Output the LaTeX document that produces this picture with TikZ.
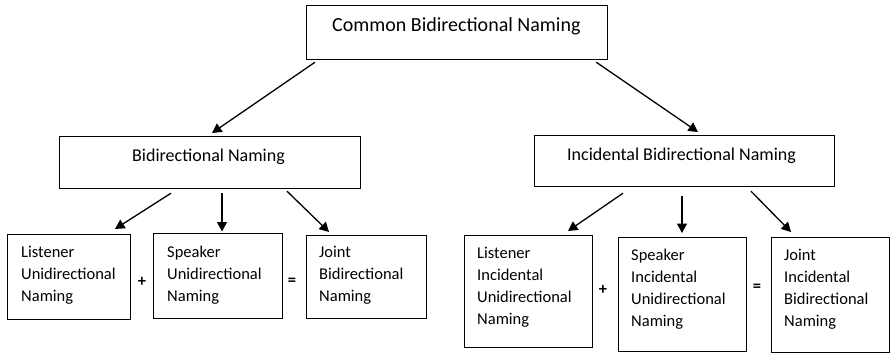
\documentclass[tikz,border=0pt]{standalone}
\usepackage{fontspec}
\setmainfont{Carlito}
\usetikzlibrary{arrows.meta}

\tikzset{
  namebox/.style={draw, line width=1.2pt, inner sep=0pt, anchor=north west},
  nametext/.style={inner sep=0pt, anchor=north west, align=left},
  lowtext/.style={nametext, font=\fontsize{16.5}{22}\selectfont},
  sign/.style={inner sep=0pt, font=\fontsize{16.5}{20}\selectfont\bfseries},
  arr/.style={-{Triangle[length=9.5pt,width=10pt]}, line width=1.3pt},
}

\begin{document}
\begin{tikzpicture}[x=1pt,y=-1pt]
\useasboundingbox [fill=white] (0,0) rectangle (890,353);
% ящики
\node [namebox, minimum width=301pt, minimum height=54pt] (cbn) at (306,5) {};
\node [namebox, minimum width=301pt, minimum height=52pt] (bn) at (59,136) {};
\node [namebox, minimum width=300pt, minimum height=51pt] (ibn) at (534,135) {};
\node [namebox, minimum width=123pt, minimum height=85pt] (lun) at (7,234) {};
\node [namebox, minimum width=129pt, minimum height=85pt] (sun) at (153,233) {};
\node [namebox, minimum width=120pt, minimum height=83pt] (jbn) at (306,235) {};
\node [namebox, minimum width=128pt, minimum height=112pt] (liun) at (464,235) {};
\node [namebox, minimum width=128pt, minimum height=114pt] (siun) at (618,237) {};
\node [namebox, minimum width=118pt, minimum height=115pt] (jibn) at (771,237) {};
% подписи
\node [nametext, font=\fontsize{20}{24}\selectfont] (cbntxt) at (332,17) {Common Bidirectional Naming};
\node [nametext, font=\fontsize{18}{22}\selectfont] (bntxt) at (132,149) {Bidirectional Naming};
\node [nametext, font=\fontsize{18}{22}\selectfont] (ibntxt) at (567,148) {Incidental Bidirectional Naming};
\node [lowtext] (luntxt) at (21,246) {Listener\\Unidirectional\\Naming};
\node [lowtext] (suntxt) at (167,246) {Speaker\\Unidirectional\\Naming};
\node [lowtext] (jbntxt) at (319,246) {Joint\\Bidirectional\\Naming};
\node [lowtext] (liuntxt) at (477,247) {Listener\\Incidental\\Unidirectional\\Naming};
\node [lowtext] (siuntxt) at (631,249) {Speaker\\Incidental\\Unidirectional\\Naming};
\node [lowtext] (jibntxt) at (784,249) {Joint\\Incidental\\Bidirectional\\Naming};
% знаки
\node [sign] (plusl) at (142,282) {+};
\node [sign] (eql) at (292,282) {=};
\node [sign] (plusr) at (603,290) {+};
\node [sign] (eqr) at (757,288) {=};
% стрелки
\draw [arr] ([xshift=9pt,yshift=-2pt]cbn.south west) -- ([xshift=153pt,yshift=3pt]bn.north west);
\draw [arr] ([xshift=-12pt,yshift=-2pt]cbn.south east) -- ([xshift=164pt,yshift=3pt]ibn.north west);
\draw [arr] ([xshift=112pt,yshift=-4pt]bn.south west) -- ([xshift=108pt,yshift=5pt]lun.north west);
\draw [arr] ([xshift=163pt,yshift=-4pt]bn.south west) -- ([xshift=69pt,yshift=1.5pt]sun.north west);
\draw [arr] ([xshift=228pt,yshift=-2pt]bn.south west) -- ([xshift=23pt,yshift=3pt]jbn.north west);
\draw [arr] ([xshift=89pt,yshift=-6pt]ibn.south west) -- ([xshift=104pt,yshift=4pt]liun.north west);
\draw [arr] ([xshift=148pt,yshift=-9pt]ibn.south west) -- ([xshift=64pt,yshift=4pt]siun.north west);
\draw [arr] ([xshift=217pt,yshift=-4pt]ibn.south west) -- ([xshift=20pt,yshift=5pt]jibn.north west);
\end{tikzpicture}
\end{document}
